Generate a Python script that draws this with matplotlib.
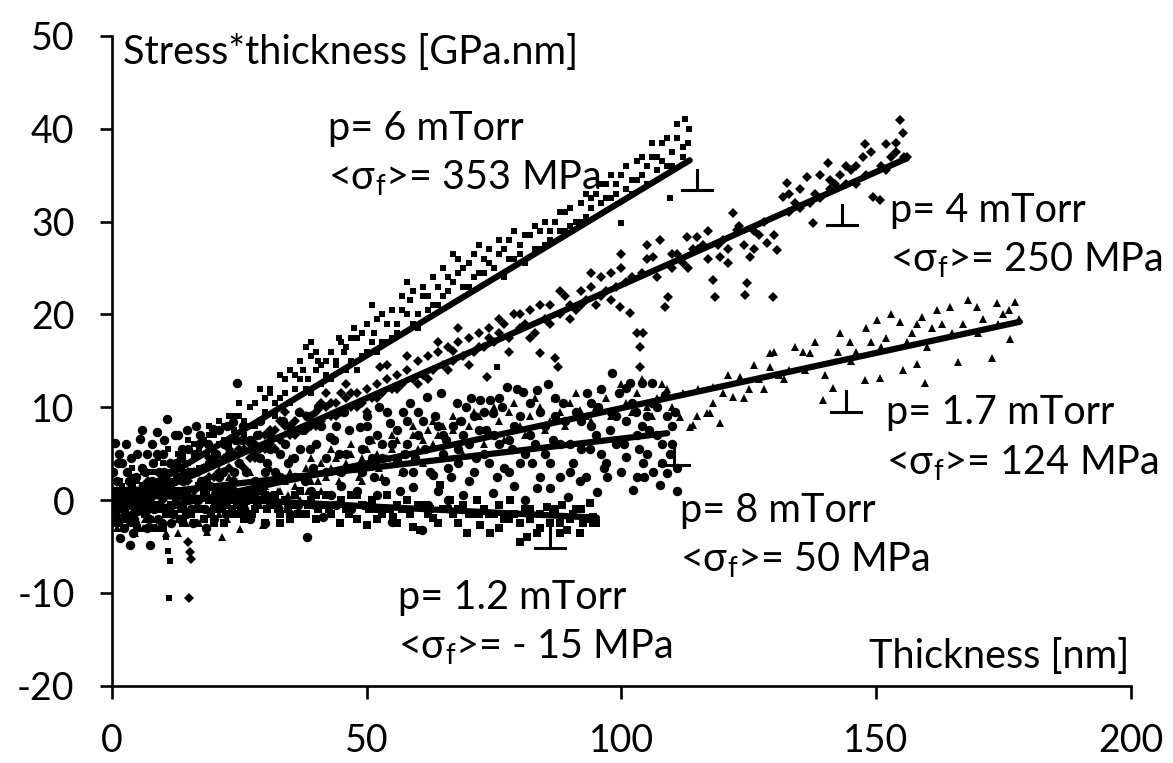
import matplotlib
matplotlib.use("Agg")
import matplotlib.pyplot as plt

plt.rcParams["font.family"] = ["Lato", "DejaVu Sans"]
plt.rcParams["mathtext.default"] = "regular"
plt.rcParams["axes.unicode_minus"] = False

# --- data (thickness nm, stress*thickness GPa.nm) ---
p6_x = [0.5, 1, 1.5, 2, 3, 3.5, 4, 5, 6, 6.5, 7, 8, 9, 10, 10.5, 11, 12, 13, 14, 15, 16, 17, 18, 19, 20,
        21, 22, 23, 24, 25, 26, 27, 28, 29, 30, 31, 32, 33, 34, 35, 36, 37, 38, 38.5, 39, 40, 41, 42, 43,
        44, 45, 46, 47, 48, 49, 50, 51, 51.5, 52, 53, 54, 55, 56, 57, 58, 58.5, 59, 60, 61, 62, 63, 64, 65,
        66, 67, 68, 69, 70, 71, 72, 73, 74, 75, 76, 77, 78, 79, 80, 81, 82, 83, 84, 85, 86, 87, 88, 89, 90,
        91, 92, 93, 94, 95, 96, 97, 98, 99, 100, 101, 102, 103, 104, 105, 106, 107, 108, 109, 110, 111,
        112, 112.5, 113, 113.2, 100, 109.5, 75.5, 10.5, 11, 11.3, 11.1]
p6_y = [0.5, -1.5, 2, 0, 1, -2, 2.5, 0.5, 1.5, -1, 3, 1, 2, 4, 0.5, 3, 2, 5, 3, 4, 6, 3.5, 5, 7, 5,
        6, 8, 6, 7.5, 9, 7, 8, 10.5, 8.5, 9.5, 12, 9, 11, 13, 10.5, 12, 15, 16.5, 13, 11.5, 14, 12.5, 15, 13,
        14.5, 17, 14, 15, 17.5, 15.5, 16, 21, 18, 16, 17, 19, 17.5, 19, 20.5, 23.5, 21.5, 19, 20, 22, 20.5, 21, 23, 22,
        24, 26.5, 24.5, 23, 25.5, 24, 24.5, 26, 27, 25, 26.5, 24, 28, 26, 27.5, 25.5, 28.5, 27, 29, 27.5, 28, 30, 29, 31, 29.5,
        30, 32, 30.5, 31.5, 33, 32, 34, 32.5, 33, 35, 33.5, 34.5, 36.5, 35, 36, 37, 35.5, 38.5, 36, 37.5, 39,
        37, 41, 38.5, 40, 29.8, 32.5, 14.3, -4, -5.5, -6.6, -10.6]
p6_more = [(36, 13.5), (37.5, 14), (38, 12), (39, 15.5), (40, 16), (41, 14.5), (42, 13.5), (43, 16), (44, 15),
           (46, 16.5), (47, 17.5), (48, 14), (49, 18), (50, 19), (51, 17), (52, 19.5), (53, 20), (54, 17),
           (55, 20.5), (56, 18), (57, 22), (58, 20), (59, 22.5), (60, 18.5), (61, 23), (62, 22), (63, 24),
           (64, 21), (65, 25), (66, 22.5), (67, 23.5), (68, 26), (69, 25), (70, 23), (71, 26.5), (72, 27.5),
           (73, 24.5), (74, 25.5), (76, 28), (77, 27), (78, 26), (79, 29), (80, 26.5), (81, 28.5), (83, 29.5),
           (84, 27), (85, 30), (86, 29), (88, 31), (89, 29), (90, 31.5), (92, 30), (93, 33), (94, 32.5),
           (96, 34), (97, 32.5), (98, 35), (99, 34), (101, 36), (102, 33), (103, 34.5), (104, 37), (105, 34),
           (106, 38.5), (107, 37), (108, 36.5), (109, 39), (110, 36), (111, 40.5), (112, 38), (10, 2.5),
           (12, 3.5), (14, 5), (16, 4.5), (18, 6.5), (20, 7), (22, 6.5), (24, 9), (26, 8.5), (28, 8),
           (30, 11), (32, 10.5), (34, 11.5), (5, 2), (7, 1.5), (8, 3), (2, 1.5), (1, 0.5), (3, -0.5),
           (4, 3.5), (6, 3), (9, 4.5), (11, 5.5), (13, 3.5), (15, 6.5), (17, 5.5), (19, 8), (21, 8.5),
           (23, 9), (25, 10.5), (27, 10), (29, 12), (31, 11.5), (33, 13.5), (35, 14), (37, 13), (39, 17),
           (40.5, 15), (44.5, 17.5), (45.5, 16), (47.5, 18.5)]

p4_x = [0.5, 1, 2, 3, 4, 5, 6, 7, 8, 9, 10, 11, 12, 13, 14, 15, 15.3, 15.5, 15.2, 15, 16, 17, 18, 19, 20,
        21, 22, 23, 24, 25, 26, 27, 28, 29, 30, 31, 32, 33, 34, 35, 36, 37, 38, 39, 40, 41, 42, 43, 44, 45,
        46, 47, 48, 49, 50, 51, 52, 52.6, 53, 54, 55, 56, 57, 58, 59, 60, 61, 62, 63, 64, 65, 66, 66.9, 67,
        68, 69, 70, 71, 72, 73, 73.6, 74, 75, 76, 77, 78, 79, 80, 81, 82, 83, 84, 85, 86, 87, 87.5, 88, 89,
        90, 91, 92, 93, 94, 95, 96, 97, 98, 99, 99.7, 100, 101, 101.7, 103, 103.6, 103.6, 104.2, 104, 105,
        106.2, 107.6, 108.5, 109.1, 110, 111, 112, 112.9, 114, 114.8, 116, 117, 118, 118.4, 119.3, 120, 121,
        121.9, 122.7, 124, 124.2, 124.6, 125.2, 126, 127, 128.6, 129.7, 130.5, 131.7, 132.5, 133, 134, 135,
        136.4, 137.6, 138, 139, 140.5, 141, 142, 143, 144, 145, 146, 147.4, 147.8, 148, 149.4, 150.7, 151,
        152, 153, 154, 154.7, 155.2, 155.5]
p4_y = [-1, 1, -2, 0, -1.5, 1, -0.5, 0.5, -1, 1.5, 0, 2, 1, 2.5, 0.5, 2, -5.6, -6.3, -10.6, -4.5, 3, 1.5, 3.5, 2.5, 4,
        3, 4.5, 3.5, 5, 4, 5.5, 4.5, 6, 5.5, 7, 6, 7.5, 6.5, 8, 7, 8.5, 7.5, 9, 8, 9.5, 8.5, 10, 9, 10.5, 9.5,
        11, 10, 11.5, 10.5, 12, 11, 12.5, 14.3, 11.5, 13, 12, 13.5, 12.5, 14, 13, 15, 13.5, 15.5, 14, 16, 14.5, 16.5, 16.1, 15,
        17, 15.5, 17.5, 16, 18, 16.5, 13.2, 18.5, 17, 18, 19, 17.5, 20, 18.5, 19, 20.5, 18, 15.8, 19.5, 21, 15.3, 14.3, 20, 22,
        21, 20.5, 22.5, 21.5, 23, 21, 24, 22.5, 24.5, 23, 20.8, 25, 23.5, 20.1, 18, 16.5, 14.3, 18, 24.5, 26,
        26.2, 28, 20.8, 21.9, 25, 26.5, 25.5, 28.3, 27, 28.3, 27.5, 26, 23.7, 21.9, 26.2, 28, 27,
        30.9, 29.1, 27.5, 22.1, 23.4, 26.2, 29, 28.5, 27.7, 21.9, 26.9, 32.6, 34.1, 31, 32, 31.5,
        34.8, 29.8, 33, 32.5, 36.3, 33.5, 34, 35, 34, 35.5, 36, 36.9, 38.4, 35, 32.6, 32.3, 36,
        38.4, 37, 37.5, 40.9, 39.5, 37]
p4_more = [(2, 0.5), (4, 0.8), (6, 1.5), (8, 0.3), (10, 2.5), (12, -0.5), (14, 2.8), (16, 1), (18, 2), (20, 2.5),
           (22, 3), (24, 6.5), (26, 3.5), (28, 4.5), (30, 5.5), (32, 5.5), (34, 9.5), (36, 7), (38, 7.5), (40, 8),
           (42, 11.5), (44, 9), (46, 12.5), (48, 10), (50, 9.5), (52, 11), (54, 14.5), (56, 12), (58, 15.5),
           (60, 12.5), (62, 13), (64, 17), (66, 14), (68, 18.5), (70, 14.5), (72, 16.5), (74, 17.5), (76, 19.5),
           (78, 16), (80, 20), (82, 17.5), (84, 21), (86, 19), (88, 22.5), (90, 19.5), (92, 21), (94, 24.5),
           (96, 22), (98, 21.5), (100, 26.5), (102, 24), (105, 27.5), (107, 24), (110, 26.5), (113, 25),
           (115, 27), (117, 29), (119, 27.5), (121, 25.5), (123, 29.5), (126, 27), (128, 30), (130, 28.5),
           (133, 33), (135, 33.5), (137, 32), (139, 35), (141, 34.5), (144, 36), (146, 34), (149, 37.5),
           (152, 35.5), (154, 38.5), (156, 37),
           (1, 0), (3, 1), (5, 0), (7, 2), (9, 0.5), (11, 1), (13, 3.5), (15, 3), (17, 3), (19, 4.5),
           (21, 4), (23, 5.5), (25, 5.5), (27, 6), (29, 7), (31, 7.5), (33, 8.5), (35, 8), (37, 9.5),
           (39, 9), (41, 10.5), (43, 10.5), (45, 11.5), (47, 11.5)]

p17_x = [0.5, 1, 2, 3, 4, 5, 6, 7, 8, 9, 10, 11, 12, 13, 14, 15, 16, 17, 18.6, 19, 20, 21.6, 22, 23, 24,
         25.1, 26, 27, 28, 29.6, 30, 31, 32, 33, 34, 35, 36, 37, 38, 39, 40, 41, 42, 43, 44, 45, 46, 47, 48,
         49, 50, 51, 52, 53, 54, 55, 56, 57, 58, 59, 60, 61, 62, 63, 64, 65, 66, 67, 68, 69, 70, 72, 74, 76,
         78, 80, 82, 84, 86, 88, 90, 91.9, 93, 95, 97, 99, 101, 103, 105, 107, 109, 111.5, 113.4, 114, 114.8,
         116.8, 117.4, 118, 119.3, 120, 121.9, 123.3, 125, 127, 129.1, 129.1, 131, 133, 135.6, 137, 139.5,
         141.5, 142.5, 144.8, 146, 147.8, 149, 150.1, 150.7, 152, 154.7, 155.3, 157, 158, 159, 159.6, 161,
         163, 164.5, 166, 167, 169.8, 171, 172.7, 173.7, 175, 176.2, 177.2, 178]
p17_y = [-2, -1, -3, -1.5, -2.5, -1, -3, -1.5, -2, -0.5, -2.5, -1, -0.5, -2, 0, -1.5, 0.5, -1, -3.4, 0, 1, -4, 0.5, -0.5, 1.5,
         -3.1, 1, 0, 2, -2.7, 1.5, 0.5, 2.5, 1, 2, 3, 1.5, 2.5, 3.5, 2, 3, 4, 2.5, 3.5, 4.5, 3, 4, 5, 3.5,
         4.5, 5.5, 4, 5, 6, 4.5, 5.5, 6.5, 5, 6, 7, 5.5, 6.5, 7.5, 6, 7, 8, 6.5, 7.5, 8.5, 7, 8, 9, 7.5, 8.5,
         9.5, 8, 9, 10, 8.5, 9.5, 10.5, 9.7, 9, 10, 11, 9.5, 10.5, 11.5, 10, 11, 12, 8.9, 7.9, 8.1, 9.1,
         9.4, 9.4, 12.2, 8.3, 11.5, 11.1, 13.2, 12, 13, 15.8, 14.3, 13.5, 14, 15.9, 15.8, 10.8,
         12.1, 15.9, 17, 16, 12.9, 17, 19.4, 13.1, 17.5, 19.2, 14, 18, 14.7, 19.7, 12.6, 18.5,
         19, 20.8, 14.9, 19, 20.8, 19.5, 15.3, 21.2, 20, 17.4, 21.3, 19.5]
p17_more = [(1, -3), (3, 0), (5, -2.5), (7, 0.5), (9, -3), (11, 0.5), (13, -3.5), (15, 1), (17, -2.5), (19, 2),
            (21, -1.5), (23, 2.5), (25, -1), (27, 3), (29, -0.5), (31, 3.5), (33, -0.5), (35, 4.5), (37, 0),
            (39, 4.5), (41, 1), (43, 5.5), (45, 1.5), (47, 6), (49, 2), (51, 6.5), (53, 2.5), (55, 7), (57, 3),
            (59, 8), (61, 4), (63, 8.5), (65, 4.5), (67, 9), (69, 5), (71, 9.5), (73, 6), (75, 10), (77, 6.5),
            (79, 10.5), (81, 7), (83, 11), (85, 7.5), (87, 11), (89, 8), (91, 11.5), (94, 8.5), (96, 12),
            (98, 9), (100, 12.5), (102, 9.5), (104, 13), (106, 9), (108, 12.5), (110, 10), (112, 11.5),
            (115, 12), (118, 10.5), (121, 13.5), (124, 11), (126, 14.5), (128, 12), (130, 16), (132, 13),
            (134, 16.5), (136, 14), (138, 17), (140, 13.5), (143, 18), (145, 15), (148, 18.5), (151, 16.5),
            (153, 20), (156, 17), (158, 19), (160, 16.5), (162, 20.5), (165, 18), (168, 21.5), (170, 18),
            (174, 19), (176, 20.5),
            (1.5, -2.5), (2.5, -0.5), (4.5, -3.5), (6.5, -2), (8.5, -1), (10.5, -3.5), (12.5, -1.5),
            (14.5, -2.5), (16.5, -0.5), (18, -2), (20, -1), (22.5, -2), (24.5, 0), (26.5, -1.5), (28.5, 0.5),
            (30.5, -1), (32.5, 1), (34.5, 0.5), (36.5, 2.5), (38.5, 1), (40.5, 2), (42.5, 3), (44.5, 2),
            (46.5, 3.5), (48.5, 2.5), (50.5, 4), (52.5, 3.5)]

p8_x = [0.6, 1, 1.5, 1.6, 2, 2.5, 3, 3.5, 4, 4.1, 5, 5.5, 6, 6.5, 7, 7.5, 8, 8.8, 9, 9.5, 10, 10.8, 11, 12,
        12.5, 13, 14, 15, 15.5, 16, 17, 18, 19, 19.8, 20, 21, 22, 23, 23.7, 24.5, 25, 26, 27, 28, 29, 30, 31,
        32, 33, 34, 35, 36, 37, 38.3, 38.3, 39, 40, 41.4, 42, 42.8, 44, 45, 46, 47, 48.7, 49, 50, 51, 52, 53,
        54.6, 55, 55.9, 57.1, 57.1, 58, 59.1, 60, 60.8, 61.8, 63, 64, 65, 66, 67.7, 68, 69, 70, 71, 72.2, 73,
        74.2, 74.8, 74.8, 76, 77.5, 78, 79, 80.1, 80.7, 81.1, 82, 83.4, 83.4, 85, 86, 87, 88, 89.5, 90, 91.9,
        93.2, 94, 95.2, 96, 97.2, 98.1, 99, 101, 101, 101.7, 102.3, 103, 104, 104.2, 105, 106, 106.2, 107.6,
        108, 108.5, 108.9, 110]
p8_y = [6.1, 2, -2, -4.1, 4, 0, 3, -4.8, 1, -3.6, 5, 6.6, -1, 3, 0.5, -4.8, 4, 7.3, -2, 2, 5, 8.7, 1, -1.5,
        4, 7, 2, 5.5, -1, 3, 6, 0.5, 4, 7.7, -2, 2.5, 6, 1, 8.4, 12.6, 4, -1, 6.5, 2, 4.5, -2.5, 7,
        3, 5, 0, 8, 2.5, 5.5, 9.1, -4, 1, 6, -1.8, 3, 6.8, 8, 1.5, 5, -1, 7.9, 3, 9, 4.5, 0.5, 6,
        8.3, -2.4, 4.3, 9.5, 3, 6, 1.4, 7, -3.2, 11.1, 2.7, 8, 5, 0, 10.5, 4, 7, 2, 9, 10.8, 5,
        10.8, 0.8, 9.4, 6, 12.2, 3, 8, 4, 11.6, 0, 7, 11.8, 1.3, 5, 1.3, 9, 2.5, 0.3, 6, 2,
        11.5, 8, 0.9, 5, 2.5, 13.7, 9, 12.1, 4.6, 12.6, 1.1, 7, 12.6, 4, 9, 12.6, 3, 1.6,
        6, 11.3, 2.9, 8]
p8_more = [(0.3, 1), (1.2, 4), (2.2, -1), (3.3, 2), (4.5, -2.5), (5.8, 3.5), (6.8, -3), (7.8, 6), (9.3, -0.5),
           (10.3, 3), (11.5, -2.5), (13.5, 4.5), (14.5, -1.5), (16.5, 8), (17.5, 2), (18.5, -3), (20.5, 5),
           (21.5, -0.5), (22.5, 8), (24, 3), (25.5, 6.5), (26.5, 0), (28.5, 7), (29.5, 1), (30.5, 4),
           (32.5, -1), (33.5, 8.5), (34.5, 4), (36.5, -0.5), (37.5, 7.5), (39.5, 3.5), (40.5, 10), (43, 0.5),
           (44.5, 5), (45.5, 9.5), (47.5, 3.5), (49.5, -0.5), (50.5, 6.5), (52.5, 10), (53.5, 2), (56, 7.5),
           (58.5, 10.5), (59.5, 4.5), (61, 8.5), (62, -0.5), (64.5, 11.5), (65.5, 6.5), (66.5, 2.5),
           (68.5, 8.5), (70.5, 11), (71.5, 4.5), (73.5, 7.5), (75.5, 2.5), (76.5, 10), (78.5, 5.5), (79.5, 12),
           (82.5, 4), (84, 9.5), (85.5, 12.5), (86.5, 6.5), (88.5, 10.5), (90.5, 4), (92, 8.5), (93.8, 5.5),
           (95.5, 10), (96.5, 3.5), (97.8, 7.5), (99.5, 11.5), (100.5, 6), (102.8, 9.5), (103.5, 5.5),
           (104.5, 2.5), (105.5, 7.5), (107, 10), (109.5, 5), (110.5, 9.5), (111, 3.5)]
p8_dense = [(0.2, 3), (0.8, -1), (1.3, 5), (1.8, 1), (2.3, -3), (2.8, 6), (3.2, -0.5), (3.8, 4.5), (4.3, -2),
            (4.8, 2.5), (5.3, -0.5), (5.8, 7.5), (6.3, 1.5), (6.8, 5), (7.3, -2), (7.8, 2), (8.3, -1), (8.8, 5),
            (9.3, 3), (9.8, -2.5), (10.3, 6.5), (10.8, 1.5), (11.3, 4), (11.8, -0.5), (12.3, 7), (12.8, 2.5),
            (13.3, -2), (13.8, 5.5), (14.3, 1), (14.8, 7.5), (15.3, 3), (15.8, -2.5), (16.3, 5), (16.8, 0),
            (17.3, 7), (17.8, 3.5), (18.3, -1), (18.8, 6), (19.3, 1.5), (19.8, 4.5), (20.3, -0.5), (21, 7.5),
            (21.8, 3), (22.3, -1.5), (23, 5), (23.8, 2), (24.3, 6.5), (25, 0.5), (25.8, 8), (26.3, 3), (27, -2),
            (27.8, 5), (28.3, 1.5), (29, 8.5), (30, 3), (31, 5.5), (31.8, 0), (33, 2.5), (34, 6), (35, -1.5),
            (35.8, 4.5), (36.8, 9.5), (37.8, 2), (38.8, 5.5), (39.8, -0.5), (41, 8), (42, 4.5), (43.5, 6.5),
            (44, -0.5), (45, 3), (46.5, 7.5), (48, 1), (49, 5.5), (50, 8), (51.5, 2.5), (52, 7), (53, 4.5),
            (54, 9.5), (55, 6), (56.5, 1), (57.5, 5), (58, 8.5), (59, 3), (60, 9.5), (61.5, 5.5), (62.5, 3),
            (63.5, 9), (64, 1), (65, 7), (66, 3.5), (67, 8), (68, 5.5), (69, 0.5), (69.5, 10), (70, 6), (71, 3),
            (72, 7.5), (73, 9.5), (74, 4), (75, 7), (76, 11), (77, 3.5), (78, 6.5), (79, 1.5), (80, 9), (81, 5),
            (82, 10.5), (83, 6), (84, 2.5), (85, 8), (86, 4), (87, 11), (88, 6), (89, 8.5), (90, 3), (91, 9.5),
            (92, 5.5), (93, 2.5), (94, 10.5), (95, 7), (96, 12), (97, 4), (98, 9.5), (99, 6), (100, 3),
            (101, 8.5), (102, 10.5), (103, 2.5), (104, 8), (105, 5), (106, 10.5), (107, 7), (108, 4), (109, 9),
            (110, 6), (111, 1)]

p12_x = [0.5, 1, 2, 3, 4, 5, 6, 7, 8, 9, 10, 11, 12, 13, 14, 15, 16, 17, 18, 19, 20, 21, 22, 23, 24, 25,
         26, 27, 28, 29, 30, 31, 32, 33, 34, 35, 36, 37, 38, 39, 40, 41, 42, 43, 44.7, 45, 46, 47, 48, 49,
         50, 51, 52, 53, 54, 55.2, 56, 57, 58, 59.1, 60.5, 61, 62, 63, 64.4, 65, 66.3, 67, 67.9, 69, 69.7,
         70.5, 71.6, 72.2, 73, 74.2, 75, 76, 77, 78.1, 79, 80.1, 81, 81.5, 82, 83.4, 84, 85.4, 86, 87, 88.3,
         89.3, 90, 91, 91.9, 92.5, 93.8, 94.4, 95]
p12_y = [1, -1, 0.5, -2, 1.5, -0.5, 0, -2, 1, -1, -3, 0.5, -1.5, 1, -2.5, 0, -1, 1.5, -2, 0, -1, 1, -2.5, 0, -1.5, 0.5,
         -2, 0, -1, 1, -2.5, -0.5, 0.5, -1.5, 0, -2, -0.5, 1, -1.5, 0, -2, -0.5, 0.5, -1.5, -2.5, 0, -1, 0.5, -2, -0.5,
         -2.7, 0, -1, -1.5, 0.5, -1.8, -0.5, -1, 0, -2.9, -3.2, -0.5, -1.5, -1.9, 1.6, -1, 0, -1.5, -2.5, -0.5, -3.6,
         -1.5, 0, -2.7, -1, -3.6, -1.5, -0.5, -2, 0, -1.5, -4.5, -1, -4, -2, -3.6, -1.5, -0.7, -2.5, -1, -0.5,
         -3.2, -2, -1, -3.6, -2.5, -0.3, -1.8, -2.5]
p12_more = [(0, -0.5), (1.5, 0), (2.5, -1.5), (3.5, 0.5), (4.5, -1), (5.5, 1), (6.5, -1.5), (7.5, 0), (8.5, -0.5),
            (9.5, 0.5), (10.5, -1.5), (11.5, -0.5), (12.5, 0), (13.5, -1), (14.5, 1), (15.5, -1.5), (16.5, 0),
            (17.5, -1), (18.5, 0.5), (19.5, -1.5), (20.5, 0), (21.5, -1), (22.5, 0.5), (23.5, -1), (24.5, -0.5),
            (25.5, -1.5), (26.5, 0.5), (27.5, -1.5), (28.5, -0.5), (29.5, 0), (30.5, -1), (32.5, -1),
            (34.5, -1), (36.5, -1.5), (38.5, -0.5), (40.5, -1), (42.5, -1), (46.5, -1.5), (50.5, -1),
            (54.5, -1), (58.5, -1.5), (62.5, -1), (66, -1), (70, -1.5), (74, -1.5), (78, -2), (82, -1),
            (86.5, -1.5), (88, -2.5), (90.5, -1.5), (93, -2), (94.5, -2.5),
            (0.5, -2.5), (1.5, -2), (2.5, 1), (3.5, -2.5), (5, -3), (6, 1.5), (7, -0.5), (8, -3), (9, 0.5),
            (10, 1), (12, 0.5), (14, -1), (16, -2.5), (18, 1), (20, -2.5), (22, 1), (24, 0.5), (26, -0.5),
            (28, 0.5), (30, 0.5), (33, -2.5), (36, 0.5), (40, 0.5), (44, -0.5), (48, 0.5), (52, -2),
            (56, -2.5), (60, -0.5), (64, -2.5), (68, -1), (72, -1.5), (76, -3), (80, -2.5), (84, -3),
            (88, -3.5), (92, -1)]

# linear fits drawn in the figure (start and end points)
fit_x = {"6": [0, 113.4], "4": [0, 156], "1.7": [0, 178.2], "8": [0, 109], "1.2": [0, 95.2]}
fit_y = {"6": [-1.0, 36.6], "4": [-1.2, 36.8], "1.7": [-2.0, 19.2], "8": [0.2, 7.2], "1.2": [0.7, -1.9]}

labels_p = ["p= 6 mTorr", "p= 4 mTorr", "p= 1.7 mTorr", "p= 8 mTorr", "p= 1.2 mTorr"]
labels_s = ["<σ$_\\mathregular{f}$>= 353 MPa", "<σ$_\\mathregular{f}$>= 250 MPa",
            "<σ$_\\mathregular{f}$>= 124 MPa", "<σ$_\\mathregular{f}$>= 50 MPa",
            "<σ$_\\mathregular{f}$>= - 15 MPa"]
label_pos = [(42.4, 40.0), (152.7, 31.2), (151.9, 9.4), (111.5, -1.1), (56.1, -10.5)]
perp_pos = [(114.8, 33.4), (143.3, 29.6), (144.1, 9.5), (110.3, 3.8), (86.0, -5.2)]


def merged(xs, ys, *extras):
    xs, ys = list(xs), list(ys)
    for extra in extras:
        xs += [p[0] for p in extra]
        ys += [p[1] for p in extra]
    return xs, ys


fig = plt.figure(figsize=(11.73, 7.63), dpi=100)
ax = fig.add_axes([0.0955, 0.1013, 0.8685, 0.8517])

x8, y8 = merged(p8_x, p8_y, p8_more, p8_dense)
x17, y17 = merged(p17_x, p17_y, p17_more)
x4, y4 = merged(p4_x, p4_y, p4_more)
x6, y6 = merged(p6_x, p6_y, p6_more)
x12, y12 = merged(p12_x, p12_y, p12_more)

ax.plot(x8, y8, "o", color="black", ms=6.8, mew=0, zorder=2)
ax.plot(x17, y17, "^", color="black", ms=6.0, mew=0, zorder=2)
ax.plot(x4, y4, "D", color="black", ms=4.6, mew=0, zorder=2)
ax.plot(x6, y6, "s", color="black", ms=5.0, mew=0, zorder=2)
ax.plot(x12, y12, "s", color="black", ms=5.2, mew=0, zorder=2)

for key in fit_x:
    ax.plot(fit_x[key], fit_y[key], "-", color="black", lw=4.5, solid_capstyle="round", zorder=3)

for (x, y), tp, ts in zip(label_pos, labels_p, labels_s):
    ax.text(x, y, tp, fontsize=28.5, ha="left", va="center")
    ax.text(x, y - 5.4, ts, fontsize=28.5, ha="left", va="center")

# small perpendicular marks next to each series
for x, y in perp_pos:
    ax.plot([x - 2.9, x + 2.9], [y, y], color="black", lw=2.2)
    ax.plot([x, x], [y, y + 2.2], color="black", lw=2.2)

ax.text(2.2, 48.2, "Stress*thickness [GPa.nm]", fontsize=28.5, ha="left", va="center")
ax.text(199.8, -16.9, "Thickness [nm]", fontsize=28.5, ha="right", va="center")

ax.set_xlim(0, 200)
ax.set_ylim(-20, 50)
ax.set_xticks([0, 50, 100, 150, 200])
ax.set_yticks([-20, -10, 0, 10, 20, 30, 40, 50])
for side in ["top", "right"]:
    ax.spines[side].set_visible(False)
for side in ["left", "bottom"]:
    ax.spines[side].set_linewidth(1.9)
ax.tick_params(axis="both", direction="out", length=9, width=1.9, labelsize=27)
ax.tick_params(axis="y", pad=18)
ax.tick_params(axis="x", pad=18)

fig.savefig("out.png", dpi=100)
